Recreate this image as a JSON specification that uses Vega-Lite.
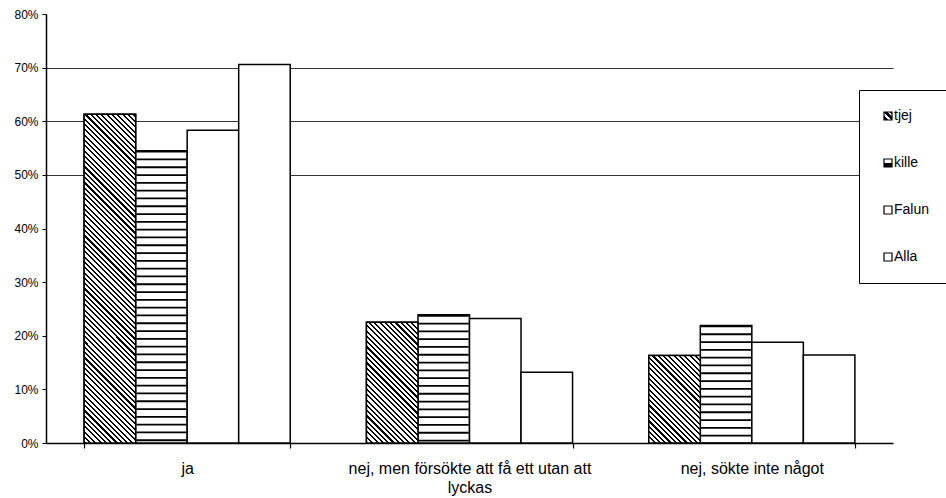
{
  "$schema": "https://vega.github.io/schema/vega-lite/v6.json",
  "width": 847,
  "height": 429,
  "autosize": {"type": "none"},
  "padding": {"left": 46, "top": 14, "right": 53, "bottom": 55},
  "background": "white",
  "config": {"font": "Liberation Sans", "view": {"stroke": null}},
  "params": [
    {"name": "hatch", "value": [
      {"offset":0,"color":"#000"},{"offset":0.005,"color":"#000"},{"offset":0.005,"color":"#fff"},{"offset":0.0125,"color":"#fff"},
      {"offset":0.0125,"color":"#000"},{"offset":0.0175,"color":"#000"},{"offset":0.0175,"color":"#fff"},{"offset":0.025,"color":"#fff"},
      {"offset":0.025,"color":"#000"},{"offset":0.03,"color":"#000"},{"offset":0.03,"color":"#fff"},{"offset":0.0375,"color":"#fff"},
      {"offset":0.0375,"color":"#000"},{"offset":0.0425,"color":"#000"},{"offset":0.0425,"color":"#fff"},{"offset":0.05,"color":"#fff"},
      {"offset":0.05,"color":"#000"},{"offset":0.055,"color":"#000"},{"offset":0.055,"color":"#fff"},{"offset":0.0625,"color":"#fff"},
      {"offset":0.0625,"color":"#000"},{"offset":0.0675,"color":"#000"},{"offset":0.0675,"color":"#fff"},{"offset":0.075,"color":"#fff"},
      {"offset":0.075,"color":"#000"},{"offset":0.08,"color":"#000"},{"offset":0.08,"color":"#fff"},{"offset":0.0875,"color":"#fff"},
      {"offset":0.0875,"color":"#000"},{"offset":0.0925,"color":"#000"},{"offset":0.0925,"color":"#fff"},{"offset":0.1,"color":"#fff"},
      {"offset":0.1,"color":"#000"},{"offset":0.105,"color":"#000"},{"offset":0.105,"color":"#fff"},{"offset":0.1125,"color":"#fff"},
      {"offset":0.1125,"color":"#000"},{"offset":0.1175,"color":"#000"},{"offset":0.1175,"color":"#fff"},{"offset":0.125,"color":"#fff"},
      {"offset":0.125,"color":"#000"},{"offset":0.13,"color":"#000"},{"offset":0.13,"color":"#fff"},{"offset":0.1375,"color":"#fff"},
      {"offset":0.1375,"color":"#000"},{"offset":0.1425,"color":"#000"},{"offset":0.1425,"color":"#fff"},{"offset":0.15,"color":"#fff"},
      {"offset":0.15,"color":"#000"},{"offset":0.155,"color":"#000"},{"offset":0.155,"color":"#fff"},{"offset":0.1625,"color":"#fff"},
      {"offset":0.1625,"color":"#000"},{"offset":0.1675,"color":"#000"},{"offset":0.1675,"color":"#fff"},{"offset":0.175,"color":"#fff"},
      {"offset":0.175,"color":"#000"},{"offset":0.18,"color":"#000"},{"offset":0.18,"color":"#fff"},{"offset":0.1875,"color":"#fff"},
      {"offset":0.1875,"color":"#000"},{"offset":0.1925,"color":"#000"},{"offset":0.1925,"color":"#fff"},{"offset":0.2,"color":"#fff"},
      {"offset":0.2,"color":"#000"},{"offset":0.205,"color":"#000"},{"offset":0.205,"color":"#fff"},{"offset":0.2125,"color":"#fff"},
      {"offset":0.2125,"color":"#000"},{"offset":0.2175,"color":"#000"},{"offset":0.2175,"color":"#fff"},{"offset":0.225,"color":"#fff"},
      {"offset":0.225,"color":"#000"},{"offset":0.23,"color":"#000"},{"offset":0.23,"color":"#fff"},{"offset":0.2375,"color":"#fff"},
      {"offset":0.2375,"color":"#000"},{"offset":0.2425,"color":"#000"},{"offset":0.2425,"color":"#fff"},{"offset":0.25,"color":"#fff"},
      {"offset":0.25,"color":"#000"},{"offset":0.255,"color":"#000"},{"offset":0.255,"color":"#fff"},{"offset":0.2625,"color":"#fff"},
      {"offset":0.2625,"color":"#000"},{"offset":0.2675,"color":"#000"},{"offset":0.2675,"color":"#fff"},{"offset":0.275,"color":"#fff"},
      {"offset":0.275,"color":"#000"},{"offset":0.28,"color":"#000"},{"offset":0.28,"color":"#fff"},{"offset":0.2875,"color":"#fff"},
      {"offset":0.2875,"color":"#000"},{"offset":0.2925,"color":"#000"},{"offset":0.2925,"color":"#fff"},{"offset":0.3,"color":"#fff"},
      {"offset":0.3,"color":"#000"},{"offset":0.305,"color":"#000"},{"offset":0.305,"color":"#fff"},{"offset":0.3125,"color":"#fff"},
      {"offset":0.3125,"color":"#000"},{"offset":0.3175,"color":"#000"},{"offset":0.3175,"color":"#fff"},{"offset":0.325,"color":"#fff"},
      {"offset":0.325,"color":"#000"},{"offset":0.33,"color":"#000"},{"offset":0.33,"color":"#fff"},{"offset":0.3375,"color":"#fff"},
      {"offset":0.3375,"color":"#000"},{"offset":0.3425,"color":"#000"},{"offset":0.3425,"color":"#fff"},{"offset":0.35,"color":"#fff"},
      {"offset":0.35,"color":"#000"},{"offset":0.355,"color":"#000"},{"offset":0.355,"color":"#fff"},{"offset":0.3625,"color":"#fff"},
      {"offset":0.3625,"color":"#000"},{"offset":0.3675,"color":"#000"},{"offset":0.3675,"color":"#fff"},{"offset":0.375,"color":"#fff"},
      {"offset":0.375,"color":"#000"},{"offset":0.38,"color":"#000"},{"offset":0.38,"color":"#fff"},{"offset":0.3875,"color":"#fff"},
      {"offset":0.3875,"color":"#000"},{"offset":0.3925,"color":"#000"},{"offset":0.3925,"color":"#fff"},{"offset":0.4,"color":"#fff"},
      {"offset":0.4,"color":"#000"},{"offset":0.405,"color":"#000"},{"offset":0.405,"color":"#fff"},{"offset":0.4125,"color":"#fff"},
      {"offset":0.4125,"color":"#000"},{"offset":0.4175,"color":"#000"},{"offset":0.4175,"color":"#fff"},{"offset":0.425,"color":"#fff"},
      {"offset":0.425,"color":"#000"},{"offset":0.43,"color":"#000"},{"offset":0.43,"color":"#fff"},{"offset":0.4375,"color":"#fff"},
      {"offset":0.4375,"color":"#000"},{"offset":0.4425,"color":"#000"},{"offset":0.4425,"color":"#fff"},{"offset":0.45,"color":"#fff"},
      {"offset":0.45,"color":"#000"},{"offset":0.455,"color":"#000"},{"offset":0.455,"color":"#fff"},{"offset":0.4625,"color":"#fff"},
      {"offset":0.4625,"color":"#000"},{"offset":0.4675,"color":"#000"},{"offset":0.4675,"color":"#fff"},{"offset":0.475,"color":"#fff"},
      {"offset":0.475,"color":"#000"},{"offset":0.48,"color":"#000"},{"offset":0.48,"color":"#fff"},{"offset":0.4875,"color":"#fff"},
      {"offset":0.4875,"color":"#000"},{"offset":0.4925,"color":"#000"},{"offset":0.4925,"color":"#fff"},{"offset":0.5,"color":"#fff"},
      {"offset":0.5,"color":"#000"},{"offset":0.505,"color":"#000"},{"offset":0.505,"color":"#fff"},{"offset":0.5125,"color":"#fff"},
      {"offset":0.5125,"color":"#000"},{"offset":0.5175,"color":"#000"},{"offset":0.5175,"color":"#fff"},{"offset":0.525,"color":"#fff"},
      {"offset":0.525,"color":"#000"},{"offset":0.53,"color":"#000"},{"offset":0.53,"color":"#fff"},{"offset":0.5375,"color":"#fff"},
      {"offset":0.5375,"color":"#000"},{"offset":0.5425,"color":"#000"},{"offset":0.5425,"color":"#fff"},{"offset":0.55,"color":"#fff"},
      {"offset":0.55,"color":"#000"},{"offset":0.555,"color":"#000"},{"offset":0.555,"color":"#fff"},{"offset":0.5625,"color":"#fff"},
      {"offset":0.5625,"color":"#000"},{"offset":0.5675,"color":"#000"},{"offset":0.5675,"color":"#fff"},{"offset":0.575,"color":"#fff"},
      {"offset":0.575,"color":"#000"},{"offset":0.58,"color":"#000"},{"offset":0.58,"color":"#fff"},{"offset":0.5875,"color":"#fff"},
      {"offset":0.5875,"color":"#000"},{"offset":0.5925,"color":"#000"},{"offset":0.5925,"color":"#fff"},{"offset":0.6,"color":"#fff"},
      {"offset":0.6,"color":"#000"},{"offset":0.605,"color":"#000"},{"offset":0.605,"color":"#fff"},{"offset":0.6125,"color":"#fff"},
      {"offset":0.6125,"color":"#000"},{"offset":0.6175,"color":"#000"},{"offset":0.6175,"color":"#fff"},{"offset":0.625,"color":"#fff"},
      {"offset":0.625,"color":"#000"},{"offset":0.63,"color":"#000"},{"offset":0.63,"color":"#fff"},{"offset":0.6375,"color":"#fff"},
      {"offset":0.6375,"color":"#000"},{"offset":0.6425,"color":"#000"},{"offset":0.6425,"color":"#fff"},{"offset":0.65,"color":"#fff"},
      {"offset":0.65,"color":"#000"},{"offset":0.655,"color":"#000"},{"offset":0.655,"color":"#fff"},{"offset":0.6625,"color":"#fff"},
      {"offset":0.6625,"color":"#000"},{"offset":0.6675,"color":"#000"},{"offset":0.6675,"color":"#fff"},{"offset":0.675,"color":"#fff"},
      {"offset":0.675,"color":"#000"},{"offset":0.68,"color":"#000"},{"offset":0.68,"color":"#fff"},{"offset":0.6875,"color":"#fff"},
      {"offset":0.6875,"color":"#000"},{"offset":0.6925,"color":"#000"},{"offset":0.6925,"color":"#fff"},{"offset":0.7,"color":"#fff"},
      {"offset":0.7,"color":"#000"},{"offset":0.705,"color":"#000"},{"offset":0.705,"color":"#fff"},{"offset":0.7125,"color":"#fff"},
      {"offset":0.7125,"color":"#000"},{"offset":0.7175,"color":"#000"},{"offset":0.7175,"color":"#fff"},{"offset":0.725,"color":"#fff"},
      {"offset":0.725,"color":"#000"},{"offset":0.73,"color":"#000"},{"offset":0.73,"color":"#fff"},{"offset":0.7375,"color":"#fff"},
      {"offset":0.7375,"color":"#000"},{"offset":0.7425,"color":"#000"},{"offset":0.7425,"color":"#fff"},{"offset":0.75,"color":"#fff"},
      {"offset":0.75,"color":"#000"},{"offset":0.755,"color":"#000"},{"offset":0.755,"color":"#fff"},{"offset":0.7625,"color":"#fff"},
      {"offset":0.7625,"color":"#000"},{"offset":0.7675,"color":"#000"},{"offset":0.7675,"color":"#fff"},{"offset":0.775,"color":"#fff"},
      {"offset":0.775,"color":"#000"},{"offset":0.78,"color":"#000"},{"offset":0.78,"color":"#fff"},{"offset":0.7875,"color":"#fff"},
      {"offset":0.7875,"color":"#000"},{"offset":0.7925,"color":"#000"},{"offset":0.7925,"color":"#fff"},{"offset":0.8,"color":"#fff"},
      {"offset":0.8,"color":"#000"},{"offset":0.805,"color":"#000"},{"offset":0.805,"color":"#fff"},{"offset":0.8125,"color":"#fff"},
      {"offset":0.8125,"color":"#000"},{"offset":0.8175,"color":"#000"},{"offset":0.8175,"color":"#fff"},{"offset":0.825,"color":"#fff"},
      {"offset":0.825,"color":"#000"},{"offset":0.83,"color":"#000"},{"offset":0.83,"color":"#fff"},{"offset":0.8375,"color":"#fff"},
      {"offset":0.8375,"color":"#000"},{"offset":0.8425,"color":"#000"},{"offset":0.8425,"color":"#fff"},{"offset":0.85,"color":"#fff"},
      {"offset":0.85,"color":"#000"},{"offset":0.855,"color":"#000"},{"offset":0.855,"color":"#fff"},{"offset":0.8625,"color":"#fff"},
      {"offset":0.8625,"color":"#000"},{"offset":0.8675,"color":"#000"},{"offset":0.8675,"color":"#fff"},{"offset":0.875,"color":"#fff"},
      {"offset":0.875,"color":"#000"},{"offset":0.88,"color":"#000"},{"offset":0.88,"color":"#fff"},{"offset":0.8875,"color":"#fff"},
      {"offset":0.8875,"color":"#000"},{"offset":0.8925,"color":"#000"},{"offset":0.8925,"color":"#fff"},{"offset":0.9,"color":"#fff"}
    ]}
  ],
  "data": {"values": [
    {"q": "ja", "series": "tjej", "v": 0.613},
    {"q": "ja", "series": "kille", "v": 0.545},
    {"q": "ja", "series": "Falun", "v": 0.583},
    {"q": "ja", "series": "Alla", "v": 0.706},
    {"q": "nej, men försökte att få ett utan att lyckas", "series": "tjej", "v": 0.225},
    {"q": "nej, men försökte att få ett utan att lyckas", "series": "kille", "v": 0.239},
    {"q": "nej, men försökte att få ett utan att lyckas", "series": "Falun", "v": 0.232},
    {"q": "nej, men försökte att få ett utan att lyckas", "series": "Alla", "v": 0.132},
    {"q": "nej, sökte inte något", "series": "tjej", "v": 0.163},
    {"q": "nej, sökte inte något", "series": "kille", "v": 0.219},
    {"q": "nej, sökte inte något", "series": "Falun", "v": 0.188},
    {"q": "nej, sökte inte något", "series": "Alla", "v": 0.164}
  ]},
  "encoding": {
    "x": {
      "field": "q", "type": "nominal",
      "sort": ["ja", "nej, men försökte att få ett utan att lyckas", "nej, sökte inte något"],
      "scale": {"paddingInner": 0.27, "paddingOuter": 0.135},
      "axis": {
        "title": null, "tickBand": "extent", "tickSize": 5, "tickColor": "black", "tickWidth": 1.2,
        "domainColor": "black", "domainWidth": 1.5, "labelFontSize": 16, "labelColor": "black",
        "labelPadding": 12, "labelLimit": 400, "labelAngle": 0, "labelLineHeight": 19, "grid": false,
        "labelExpr": "datum.label === 'nej, men försökte att få ett utan att lyckas' ? ['nej, men försökte att få ett utan att', 'lyckas'] : datum.label"
      }
    },
    "xOffset": {
      "field": "series", "type": "nominal", "sort": ["tjej", "kille", "Falun", "Alla"],
      "scale": {"paddingInner": 0, "paddingOuter": 0}
    },
    "y": {
      "field": "v", "type": "quantitative",
      "scale": {"domain": [0, 0.8], "nice": false},
      "axis": {
        "title": null, "values": [0, 0.1, 0.2, 0.3, 0.4, 0.5, 0.6, 0.7, 0.8], "format": ".0%",
        "grid": true, "gridColor": "#333", "gridWidth": 1,
        "gridOpacity": {"condition": {"test": "datum.value > 0.45 && datum.value < 0.75", "value": 1}, "value": 0},
        "domainColor": "black", "domainWidth": 1.5, "tickColor": "black", "tickSize": 4,
        "labelFontSize": 12, "labelColor": "black", "labelPadding": 4
      }
    }
  },
  "layer": [
    {
      "mark": {"type": "bar", "stroke": "black", "strokeWidth": 1.5, "fill": "#fff"}
    },
    {
      "transform": [{"filter": "false"}],
      "mark": {"type": "bar", "stroke": "black", "strokeWidth": 1.2},
      "encoding": {
        "fill": {
          "field": "series", "type": "nominal",
          "scale": {
            "domain": ["tjej", "kille", "Falun", "Alla"],
            "range": [
              {"expr": "{gradient: 'linear', x1: 0, y1: 1, x2: 1, y2: 0, stops: [{offset: 0, color: '#000'}, {offset: 0.3, color: '#000'}, {offset: 0.3, color: '#fff'}, {offset: 0.45, color: '#fff'}, {offset: 0.45, color: '#000'}, {offset: 0.75, color: '#000'}, {offset: 0.75, color: '#fff'}, {offset: 0.85, color: '#fff'}, {offset: 0.85, color: '#000'}, {offset: 1, color: '#000'}]}"},
              {"expr": "{gradient: 'linear', x1: 1, y1: 0.001, x2: 1, y2: 1, stops: [{offset: 0, color: '#fff'}, {offset: 0.45, color: '#fff'}, {offset: 0.45, color: '#000'}, {offset: 1, color: '#000'}]}"},
              "#fff",
              "#fff"
            ]
          },
          "legend": {
            "orient": "none", "legendX": 813, "legendY": 76, "title": null,
            "symbolType": "square", "symbolSize": 64, "symbolStrokeColor": "black", "symbolStrokeWidth": 1.2,
            "symbolOpacity": 1,
            "labelFontSize": 14, "labelColor": "black", "labelOffset": -1, "symbolOffset": 3,
            "rowPadding": 33, "padding": 19, "strokeColor": "black", "fillColor": "white",
            "labelExpr": "datum.label + '\u00a0\u00a0\u00a0'",
            "encode": {
              "symbols": {"update": {
                "stroke": {"value": "black"},
                "strokeWidth": {"value": 1.2},
                "opacity": {"value": 1},
                "fillOpacity": {"value": 1},
                "strokeOpacity": {"value": 1}
              }}
            }
          }
        }
      }
    },
    {
      "transform": [{"filter": {"and": [{"field": "series", "equal": "tjej"}, {"field": "q", "equal": "ja"}]}}],
      "mark": {"type": "bar", "stroke": "black", "strokeWidth": 1.5,
        "fill": {"expr": "{gradient: 'linear', x1: 0, y1: 1, x2: 0.19747, y2: -0.25971, stops: hatch}"}}
    },
    {
      "transform": [{"filter": {"and": [{"field": "series", "equal": "tjej"}, {"field": "q", "equal": "nej, men försökte att få ett utan att lyckas"}]}}],
      "mark": {"type": "bar", "stroke": "black", "strokeWidth": 1.5,
        "fill": {"expr": "{gradient: 'linear', x1: 0, y1: 1, x2: 1.27, y2: -1.9738, stops: hatch}"}}
    },
    {
      "transform": [{"filter": {"and": [{"field": "series", "equal": "tjej"}, {"field": "q", "equal": "nej, sökte inte något"}]}}],
      "mark": {"type": "bar", "stroke": "black", "strokeWidth": 1.5,
        "fill": {"expr": "{gradient: 'linear', x1: 0, y1: 1, x2: 2.1234, y2: -2.6019, stops: hatch}"}}
    },
    {
      "transform": [{"filter": {"field": "series", "equal": "kille"}}],
      "mark": {"type": "rule", "color": "black", "strokeWidth": 50, "strokeDash": [1.8, 6], "strokeCap": "butt"},
      "encoding": {"y2": {"datum": 0}}
    }
  ]
}
